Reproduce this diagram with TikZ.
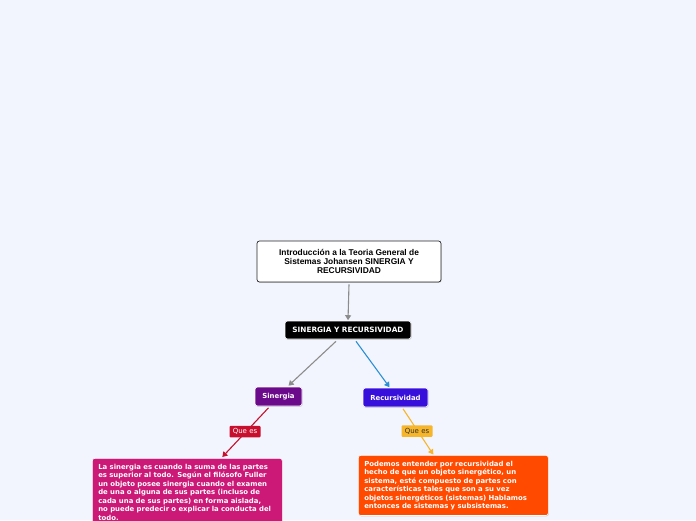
\documentclass[tikz,border=0pt]{standalone}
\usepackage{fontspec}
\setmainfont{DejaVu Sans}
\newfontfamily\arialb{Liberation Sans}
\usetikzlibrary{arrows.meta,calc,shadows}
\definecolor{bg}{HTML}{F2F5FD}
\definecolor{grayline}{HTML}{8C8C8C}
\definecolor{blueline}{HTML}{2A8FD6}
\definecolor{crim}{HTML}{C8102E}
\definecolor{yel}{HTML}{F7B52A}
\definecolor{purp}{HTML}{6C0A8C}
\definecolor{viol}{HTML}{3810DC}
\definecolor{mag}{HTML}{CC1877}
\definecolor{orng}{HTML}{FF4A00}
\tikzset{
  x=1pt,y=1pt,
  boxbase/.style={rounded corners=2.5pt, inner sep=0pt, align=center,
    drop shadow={shadow xshift=0.6pt,shadow yshift=-0.8pt,opacity=0.35}},
  titlebox/.style={boxbase, draw=black!85, line width=0.7pt, fill=white,
    minimum width=184, minimum height=41,
    font=\arialb\bfseries\fontsize{8.4}{9.4}\selectfont},
  darkbox/.style={boxbase, draw=white, line width=0.6pt, text=white,
    font=\bfseries\fontsize{6.9}{8}\selectfont},
  parabox/.style={boxbase, draw=white, line width=0.6pt, text=white, align=left,
    text width=178, inner xsep=6pt, inner ysep=5.5pt,
    font=\bfseries\fontsize{6.9}{8.5}\selectfont},
  labelbox/.style={rounded corners=1pt, inner sep=0pt, minimum width=31, minimum height=11.5,
    font=\fontsize{7}{8}\selectfont},
  conn/.style={line width=1.1pt, -{Triangle[length=5pt,width=6pt]}},
}
\begin{document}
\begin{tikzpicture}
\fill[bg] (0,0) rectangle (696,-520);
\useasboundingbox (0,0) rectangle (696,-520);
\clip (0,0) rectangle (696,-520);

\node[titlebox] (title) at (349,-261.5) {Introducción a la Teoria General de\\Sistemas Johansen SINERGIA Y\\RECURSIVIDAD};
\node[darkbox, fill=black, minimum width=126, minimum height=18, font=\bfseries\fontsize{7.3}{8}\selectfont] (sy) at (348,-330) {SINERGIA Y RECURSIVIDAD};
\node[darkbox, fill=purp, minimum width=47, minimum height=19] (sin) at (278.5,-396.5) {Sinergia};
\node[darkbox, fill=viol, minimum width=65, minimum height=19] (rec) at (395.5,-397.5) {Recursividad};

\node[parabox, fill=mag, anchor=north west] (sintext) at (92,-458) {La sinergia es cuando la suma de las partes\\es superior al todo. Según el filósofo Fuller\\un objeto posee sinergia cuando el examen\\de una o alguna de sus partes (incluso de\\cada una de sus partes) en forma aislada,\\no puede predecir o explicar la conducta del\\todo.};
\node[parabox, fill=orng, anchor=north west] (rectext) at (358,-455) {Podemos entender por recursividad el\\hecho de que un objeto sinergético, un\\sistema, esté compuesto de partes con\\características tales que son a su vez\\objetos sinergéticos (sistemas) Hablamos\\entonces de sistemas y subsistemas.};

\draw[conn, grayline] ($(title.south)+(0,-2)$) -- ($(sy.north)+(0,0.5)$);
\draw[conn, grayline] ($(sy.south)+(-12,-2)$) -- ($(sin.north)+(10,1)$);
\draw[conn, blueline] ($(sy.south)+(8,-2)$) -- ($(rec.north)+(-6,0.5)$);
\draw[conn, crim] ($(sin.south)+(-10,-1.5)$) -- ($(sintext.north)+(35,1)$);
\draw[conn, yel] ($(rec.south)+(7.5,-1.5)$) -- ($(rectext.north)+(-20,0.5)$);

\node[labelbox, fill=crim, text=white] (q1) at (245,-431.5) {Que es};
\node[labelbox, fill=yel, text=black!80] (q2) at (417,-431) {Que es};
\end{tikzpicture}
\end{document}
